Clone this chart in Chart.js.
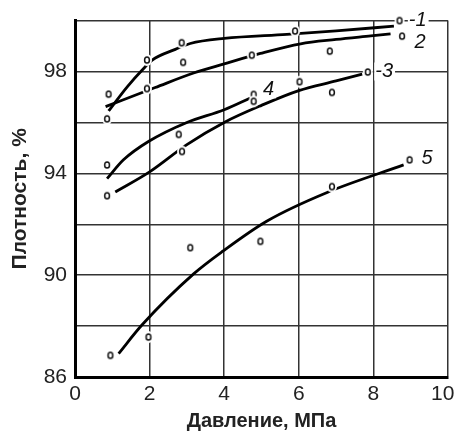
<!DOCTYPE html>
<html>
<head>
<meta charset="utf-8">
<script src="https://cdn.jsdelivr.net/npm/chart.js@4.4.1/dist/chart.umd.min.js"></script>
<style>
  body { margin: 0; background: #fff; }
  #wrap { width: 455px; height: 434px; }
</style>
</head>
<body>
<div id="wrap"><canvas id="densityChart" width="455" height="434"></canvas></div>
<script>
// axis ticks
const xTicks = [0, 2, 4, 6, 8, 10];
const yLabeled = [86, 90, 94, 98];

// fitted curves
const curve1X = [0.9, 1.4, 1.84, 2.07, 2.69, 3.09, 4.0, 5.68, 7.0, 8.55];
const curve1Y = [96.45, 97.4, 98.12, 98.45, 98.87, 99.1, 99.3, 99.46, 99.6, 99.78];
const curve2X = [0.82, 2.15, 3.18, 4.0, 4.97, 6.05, 7.0, 7.93, 8.46];
const curve2Y = [96.62, 97.37, 97.94, 98.3, 98.71, 99.09, 99.26, 99.4, 99.48];
const curve3X = [1.08, 2.0, 3.0, 4.0, 5.0, 6.0, 7.0, 7.7];
const curve3Y = [93.27, 94.06, 95.13, 96.0, 96.67, 97.25, 97.63, 97.9];
const curve4X = [0.86, 1.3, 1.98, 3.0, 4.0, 4.7];
const curve4Y = [93.79, 94.53, 95.26, 96.0, 96.5, 96.96];
const curve5X = [1.17, 1.8, 3.18, 3.97, 5.15, 6.76, 8.81];
const curve5Y = [86.92, 88.05, 90.05, 90.95, 92.13, 93.25, 94.33];

// measured points ("o")
const pts1X = [0.9, 1.93, 2.86, 5.9, 8.7];
const pts1Y = [97.11, 98.45, 99.13, 99.59, 100.0];
const pts2X = [0.86, 1.93, 2.9, 4.74, 6.83, 8.77];
const pts2Y = [96.14, 97.33, 98.36, 98.64, 98.8, 99.39];
const pts3X = [0.86, 2.87, 4.79, 6.02, 6.89, 7.85];
const pts3Y = [93.12, 94.86, 96.83, 97.6, 97.18, 97.98];
const pts4X = [0.86, 2.78, 4.79];
const pts4Y = [94.33, 95.53, 97.1];
const pts5X = [0.95, 1.97, 3.09, 4.97, 6.89, 8.97];
const pts5Y = [86.85, 87.57, 91.08, 91.33, 93.48, 94.53];

const zip = (xs, ys) => xs.map((x, i) => ({ x: x, y: ys[i] }));

// little "o" marker with a white halo so lines/grid break around it
const marker = document.createElement('canvas');
marker.width = 12; marker.height = 14;
(function () {
    const c = marker.getContext('2d');
    c.fillStyle = '#fff';
    c.beginPath(); c.ellipse(6, 7, 5, 6, 0, 0, Math.PI * 2); c.fill();
    c.strokeStyle = '#111'; c.lineWidth = 1.5;
    c.beginPath(); c.ellipse(6, 7, 2.4, 3.1, 0, 0, Math.PI * 2); c.stroke();
})();

function curve(xs, ys) {
    return {
        data: zip(xs, ys), showLine: true, borderColor: '#000', borderWidth: 2.8,
        pointRadius: 0, cubicInterpolationMode: 'monotone', order: 2, clip: false
    };
}
function points(xs, ys) {
    return {
        data: zip(xs, ys), showLine: false, pointStyle: marker, pointRadius: 5,
        order: 1, clip: false
    };
}

// curve numbers
const curveLabels = [
    { text: '-1', x: 8.95, y: 100.0 },
    { text: '2', x: 9.1, y: 99.15 },
    { text: '-3', x: 8.05, y: 98.0 },
    { text: '4', x: 5.04, y: 97.3 },
    { text: '5', x: 9.29, y: 94.6 }
];

const labelPlugin = {
    id: 'curveLabels',
    afterDatasetsDraw(chart) {
        const ctx = chart.ctx;
        ctx.save();
        ctx.font = 'italic 20px "Liberation Sans", Arial, sans-serif';
        ctx.textBaseline = 'middle';
        ctx.textAlign = 'left';
        curveLabels.forEach(l => {
            const px = chart.scales.x.getPixelForValue(l.x);
            const py = chart.scales.y.getPixelForValue(l.y);
            const w = ctx.measureText(l.text).width;
            ctx.fillStyle = '#fff';
            ctx.fillRect(px - 1, py - 9, w + 3, 18);
            ctx.fillStyle = '#111';
            ctx.fillText(l.text, px, py);
        });
        ctx.restore();
    }
};

const tickFont = { size: 21, family: '"Liberation Sans", Arial' };
const titleFont = { size: 20, weight: 'bold', family: '"Liberation Sans", Arial' };

new Chart(document.getElementById('densityChart'), {
    type: 'scatter',
    data: {
        datasets: [
            curve(curve1X, curve1Y), curve(curve2X, curve2Y), curve(curve3X, curve3Y),
            curve(curve4X, curve4Y), curve(curve5X, curve5Y),
            points(pts1X, pts1Y), points(pts2X, pts2Y), points(pts3X, pts3Y),
            points(pts4X, pts4Y), points(pts5X, pts5Y)
        ]
    },
    options: {
        responsive: false,
        animation: false,
        layout: { padding: { top: 19, right: 7, left: 0, bottom: 0 } },
        plugins: { legend: { display: false }, tooltip: { enabled: false } },
        scales: {
            x: {
                type: 'linear', min: 0, max: 10,
                afterBuildTicks: s => { s.ticks = xTicks.map(v => ({ value: v })); },
                afterFit: s => { s.height = 57; s.paddingLeft = 0; s.paddingRight = 0; },
                grid: { color: '#333', lineWidth: 1.5, drawTicks: false },
                border: { display: true, color: '#000', width: 3 },
                ticks: {
                    color: '#222', padding: 5, font: tickFont,
                    // last label sits a little inside the frame, as in the original
                    callback: v => v === 10 ? '10\u2002' : v
                },
                title: {
                    display: true, text: 'Давление, МПа', color: '#222',
                    padding: { top: 0, bottom: 1 }, font: titleFont
                }
            },
            y: {
                type: 'linear', min: 86, max: 100,
                ticks: {
                    stepSize: 2, color: '#222', padding: 8, font: tickFont,
                    callback: v => yLabeled.includes(v) ? v : ''
                },
                afterFit: s => { s.width = 75; },
                grid: { color: '#333', lineWidth: 1.5, drawTicks: false },
                border: { display: true, color: '#000', width: 3 },
                title: {
                    display: true, text: 'Плотность, %', color: '#222',
                    padding: { top: 8, bottom: 0 },
                    font: { size: 21, weight: 'bold', family: '"Liberation Sans", Arial' }
                }
            }
        }
    },
    plugins: [labelPlugin]
});
</script>
</body>
</html>
